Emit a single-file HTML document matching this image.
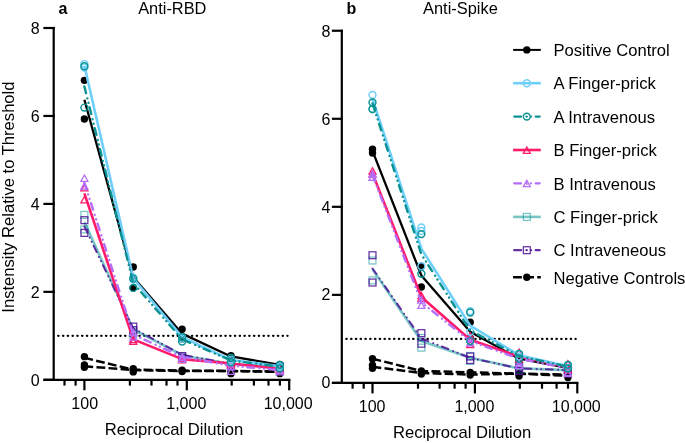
<!DOCTYPE html>
<html><head><meta charset="utf-8"><style>
html,body{margin:0;padding:0;background:#fff;}
body{width:685px;height:443px;overflow:hidden;font-family:"Liberation Sans", sans-serif;}
svg{display:block;will-change:transform;}
</style></head><body>
<svg width="685" height="443" viewBox="0 0 685 443" font-family='"Liberation Sans", sans-serif' fill="#000">
<rect width="685" height="443" fill="#fff"/>
<text x="58.6" y="14" font-size="16" font-weight="bold">a</text>
<text x="172.3" y="13.6" font-size="16.4" text-anchor="middle">Anti-RBD</text>
<text x="346.6" y="14.1" font-size="16" font-weight="bold">b</text>
<text x="460.4" y="14.1" font-size="16.4" text-anchor="middle">Anti-Spike</text>
<text transform="translate(14.2,197.1) rotate(-90)" text-anchor="middle" font-size="16.6">Instensity Relative to Threshold</text>
<line x1="53.7" y1="26.90" x2="53.7" y2="380.90" stroke="#000" stroke-width="2.2"/>
<line x1="43.4" y1="379.80" x2="54.80" y2="379.80" stroke="#000" stroke-width="2.2"/>
<text x="39.70" y="385.50" text-anchor="end" font-size="16">0</text>
<line x1="43.4" y1="291.85" x2="54.80" y2="291.85" stroke="#000" stroke-width="2.2"/>
<text x="39.70" y="297.55" text-anchor="end" font-size="16">2</text>
<line x1="43.4" y1="203.90" x2="54.80" y2="203.90" stroke="#000" stroke-width="2.2"/>
<text x="39.70" y="209.60" text-anchor="end" font-size="16">4</text>
<line x1="43.4" y1="115.95" x2="54.80" y2="115.95" stroke="#000" stroke-width="2.2"/>
<text x="39.70" y="121.65" text-anchor="end" font-size="16">6</text>
<line x1="43.4" y1="28.00" x2="54.80" y2="28.00" stroke="#000" stroke-width="2.2"/>
<text x="39.70" y="33.70" text-anchor="end" font-size="16">8</text>
<line x1="43.4" y1="379.80" x2="290.40" y2="379.80" stroke="#000" stroke-width="2.2"/>
<line x1="84.40" y1="379.80" x2="84.40" y2="390.30" stroke="#000" stroke-width="2.2"/>
<line x1="186.80" y1="379.80" x2="186.80" y2="390.30" stroke="#000" stroke-width="2.2"/>
<line x1="289.20" y1="379.80" x2="289.20" y2="390.30" stroke="#000" stroke-width="2.2"/>
<line x1="64.50" y1="379.80" x2="64.50" y2="385.60" stroke="#000" stroke-width="2.2"/>
<line x1="75.60" y1="379.80" x2="75.60" y2="385.60" stroke="#000" stroke-width="2.2"/>
<line x1="129.90" y1="379.80" x2="129.90" y2="385.60" stroke="#000" stroke-width="2.2"/>
<line x1="151.50" y1="379.80" x2="151.50" y2="385.60" stroke="#000" stroke-width="2.2"/>
<line x1="166.50" y1="379.80" x2="166.50" y2="385.60" stroke="#000" stroke-width="2.2"/>
<line x1="177.50" y1="379.80" x2="177.50" y2="385.60" stroke="#000" stroke-width="2.2"/>
<line x1="231.70" y1="379.80" x2="231.70" y2="385.60" stroke="#000" stroke-width="2.2"/>
<line x1="253.90" y1="379.80" x2="253.90" y2="385.60" stroke="#000" stroke-width="2.2"/>
<line x1="268.50" y1="379.80" x2="268.50" y2="385.60" stroke="#000" stroke-width="2.2"/>
<line x1="279.90" y1="379.80" x2="279.90" y2="385.60" stroke="#000" stroke-width="2.2"/>
<text x="84.70" y="408.80" text-anchor="middle" font-size="16">100</text>
<text x="186.30" y="408.80" text-anchor="middle" font-size="16">1,000</text>
<text x="288.20" y="408.80" text-anchor="middle" font-size="16">10,000</text>
<text x="174.00" y="434.80" text-anchor="middle" font-size="16.6">Reciprocal Dilution</text>
<line x1="58.20" y1="335.82" x2="287.60" y2="335.82" stroke="#000" stroke-width="2.2" stroke-dasharray="0.4 4.375" stroke-linecap="round"/>
<polyline points="84.40,357.81 133.26,369.69 182.11,370.57 230.97,371.00 279.83,371.44" fill="none" stroke="#000000" stroke-width="2.5" stroke-dasharray="8.8 3.3" stroke-linecap="butt" stroke-linejoin="round"/>
<circle cx="84.40" cy="356.63" r="3.7" fill="#000000"/>
<circle cx="133.26" cy="368.81" r="3.7" fill="#000000"/>
<circle cx="182.11" cy="370.13" r="3.7" fill="#000000"/>
<circle cx="230.97" cy="370.57" r="3.7" fill="#000000"/>
<circle cx="279.83" cy="371.44" r="3.7" fill="#000000"/>
<polyline points="84.40,366.17 133.26,370.13 182.11,371.00 230.97,371.00 279.83,371.88" fill="none" stroke="#000000" stroke-width="2.5" stroke-dasharray="8.8 3.3" stroke-linecap="butt" stroke-linejoin="round"/>
<circle cx="84.40" cy="364.85" r="3.7" fill="#000000"/>
<circle cx="84.40" cy="367.27" r="3.7" fill="#000000"/>
<circle cx="133.26" cy="371.88" r="3.7" fill="#000000"/>
<circle cx="182.11" cy="371.44" r="3.7" fill="#000000"/>
<circle cx="230.97" cy="373.64" r="3.7" fill="#000000"/>
<circle cx="279.83" cy="373.64" r="3.7" fill="#000000"/>
<polyline points="84.40,99.68 133.26,277.34 182.11,333.63 230.97,356.49 279.83,364.85" fill="none" stroke="#000000" stroke-width="2.3" stroke-linecap="butt" stroke-linejoin="round"/>
<circle cx="84.40" cy="80.33" r="3.7" fill="#000000"/>
<circle cx="84.40" cy="119.03" r="3.7" fill="#000000"/>
<circle cx="133.26" cy="267.00" r="3.7" fill="#000000"/>
<circle cx="133.26" cy="287.89" r="3.7" fill="#000000"/>
<circle cx="182.11" cy="329.23" r="3.7" fill="#000000"/>
<circle cx="182.11" cy="338.90" r="3.7" fill="#000000"/>
<circle cx="230.97" cy="355.61" r="3.7" fill="#000000"/>
<circle cx="230.97" cy="357.81" r="3.7" fill="#000000"/>
<circle cx="279.83" cy="364.41" r="3.7" fill="#000000"/>
<circle cx="279.83" cy="366.17" r="3.7" fill="#000000"/>
<polyline points="84.40,222.15 133.26,329.23 182.11,355.17 230.97,363.97 279.83,367.49" fill="none" stroke="rgba(8,150,150,0.55)" stroke-width="2.6" stroke-linecap="butt" stroke-linejoin="round"/>
<rect x="80.95" y="211.44" width="6.9" height="6.9" fill="none" stroke="rgba(8,150,150,0.55)" stroke-width="1.25"/>
<rect x="80.95" y="225.96" width="6.9" height="6.9" fill="none" stroke="rgba(8,150,150,0.55)" stroke-width="1.25"/>
<rect x="129.81" y="327.98" width="6.9" height="6.9" fill="none" stroke="rgba(8,150,150,0.55)" stroke-width="1.25"/>
<rect x="129.81" y="331.06" width="6.9" height="6.9" fill="none" stroke="rgba(8,150,150,0.55)" stroke-width="1.25"/>
<rect x="178.66" y="353.04" width="6.9" height="6.9" fill="none" stroke="rgba(8,150,150,0.55)" stroke-width="1.25"/>
<rect x="178.66" y="354.80" width="6.9" height="6.9" fill="none" stroke="rgba(8,150,150,0.55)" stroke-width="1.25"/>
<rect x="227.52" y="360.96" width="6.9" height="6.9" fill="none" stroke="rgba(8,150,150,0.55)" stroke-width="1.25"/>
<rect x="227.52" y="362.28" width="6.9" height="6.9" fill="none" stroke="rgba(8,150,150,0.55)" stroke-width="1.25"/>
<rect x="276.38" y="363.16" width="6.9" height="6.9" fill="none" stroke="rgba(8,150,150,0.55)" stroke-width="1.25"/>
<rect x="276.38" y="365.36" width="6.9" height="6.9" fill="none" stroke="rgba(8,150,150,0.55)" stroke-width="1.25"/>
<polyline points="84.40,226.55 133.26,328.35 182.11,354.73 230.97,363.97 279.83,367.49" fill="none" stroke="rgba(80,20,150,0.88)" stroke-width="2.0" stroke-dasharray="6.8 5.45 0.01 4.55 0.01 4.65" stroke-linecap="round" stroke-linejoin="round"/>
<rect x="80.95" y="216.72" width="6.9" height="6.9" fill="none" stroke="rgba(80,20,150,0.88)" stroke-width="1.25"/>
<rect x="80.95" y="229.47" width="6.9" height="6.9" fill="none" stroke="rgba(80,20,150,0.88)" stroke-width="1.25"/>
<rect x="129.81" y="323.14" width="6.9" height="6.9" fill="none" stroke="rgba(80,20,150,0.88)" stroke-width="1.25"/>
<rect x="129.81" y="326.66" width="6.9" height="6.9" fill="none" stroke="rgba(80,20,150,0.88)" stroke-width="1.25"/>
<rect x="178.66" y="352.60" width="6.9" height="6.9" fill="none" stroke="rgba(80,20,150,0.88)" stroke-width="1.25"/>
<rect x="178.66" y="354.36" width="6.9" height="6.9" fill="none" stroke="rgba(80,20,150,0.88)" stroke-width="1.25"/>
<rect x="227.52" y="360.08" width="6.9" height="6.9" fill="none" stroke="rgba(80,20,150,0.88)" stroke-width="1.25"/>
<rect x="227.52" y="362.28" width="6.9" height="6.9" fill="none" stroke="rgba(80,20,150,0.88)" stroke-width="1.25"/>
<rect x="276.38" y="363.16" width="6.9" height="6.9" fill="none" stroke="rgba(80,20,150,0.88)" stroke-width="1.25"/>
<rect x="276.38" y="365.36" width="6.9" height="6.9" fill="none" stroke="rgba(80,20,150,0.88)" stroke-width="1.25"/>
<polyline points="84.40,193.35 133.26,339.34 182.11,359.13 230.97,363.53 279.83,368.81" fill="none" stroke="#FF1A6A" stroke-width="2.6" stroke-linecap="butt" stroke-linejoin="round"/>
<path d="M84.40 184.67 L87.90 190.97 L80.90 190.97Z" fill="none" stroke="#FF1A6A" stroke-width="1.3" stroke-linejoin="miter"/>
<path d="M84.40 196.54 L87.90 202.84 L80.90 202.84Z" fill="none" stroke="#FF1A6A" stroke-width="1.3" stroke-linejoin="miter"/>
<path d="M133.26 336.38 L136.76 342.68 L129.76 342.68Z" fill="none" stroke="#FF1A6A" stroke-width="1.3" stroke-linejoin="miter"/>
<path d="M133.26 338.14 L136.76 344.44 L129.76 344.44Z" fill="none" stroke="#FF1A6A" stroke-width="1.3" stroke-linejoin="miter"/>
<path d="M182.11 355.29 L185.61 361.59 L178.61 361.59Z" fill="none" stroke="#FF1A6A" stroke-width="1.3" stroke-linejoin="miter"/>
<path d="M182.11 356.61 L185.61 362.91 L178.61 362.91Z" fill="none" stroke="#FF1A6A" stroke-width="1.3" stroke-linejoin="miter"/>
<path d="M230.97 360.13 L234.47 366.43 L227.47 366.43Z" fill="none" stroke="#FF1A6A" stroke-width="1.3" stroke-linejoin="miter"/>
<path d="M230.97 361.45 L234.47 367.75 L227.47 367.75Z" fill="none" stroke="#FF1A6A" stroke-width="1.3" stroke-linejoin="miter"/>
<path d="M279.83 365.85 L283.33 372.15 L276.33 372.15Z" fill="none" stroke="#FF1A6A" stroke-width="1.3" stroke-linejoin="miter"/>
<path d="M279.83 367.16 L283.33 373.46 L276.33 373.46Z" fill="none" stroke="#FF1A6A" stroke-width="1.3" stroke-linejoin="miter"/>
<polyline points="84.40,182.79 133.26,334.51 182.11,356.93 230.97,365.73 279.83,370.13" fill="none" stroke="#B46EFA" stroke-width="2.4" stroke-dasharray="6.8 5.45 0.01 4.55 0.01 4.65" stroke-linecap="round" stroke-linejoin="round"/>
<path d="M84.40 174.99 L87.90 181.29 L80.90 181.29Z" fill="none" stroke="#B46EFA" stroke-width="1.3" stroke-linejoin="miter"/>
<path d="M84.40 182.91 L87.90 189.21 L80.90 189.21Z" fill="none" stroke="#B46EFA" stroke-width="1.3" stroke-linejoin="miter"/>
<path d="M133.26 329.35 L136.76 335.65 L129.76 335.65Z" fill="none" stroke="#B46EFA" stroke-width="1.3" stroke-linejoin="miter"/>
<path d="M133.26 333.74 L136.76 340.04 L129.76 340.04Z" fill="none" stroke="#B46EFA" stroke-width="1.3" stroke-linejoin="miter"/>
<path d="M182.11 353.97 L185.61 360.27 L178.61 360.27Z" fill="none" stroke="#B46EFA" stroke-width="1.3" stroke-linejoin="miter"/>
<path d="M182.11 356.17 L185.61 362.47 L178.61 362.47Z" fill="none" stroke="#B46EFA" stroke-width="1.3" stroke-linejoin="miter"/>
<path d="M230.97 363.65 L234.47 369.95 L227.47 369.95Z" fill="none" stroke="#B46EFA" stroke-width="1.3" stroke-linejoin="miter"/>
<path d="M230.97 368.04 L234.47 374.34 L227.47 374.34Z" fill="none" stroke="#B46EFA" stroke-width="1.3" stroke-linejoin="miter"/>
<path d="M279.83 367.16 L283.33 373.46 L276.33 373.46Z" fill="none" stroke="#B46EFA" stroke-width="1.3" stroke-linejoin="miter"/>
<path d="M279.83 368.48 L283.33 374.78 L276.33 374.78Z" fill="none" stroke="#B46EFA" stroke-width="1.3" stroke-linejoin="miter"/>
<polyline points="84.40,65.82 133.26,278.22 182.11,337.14 230.97,360.01 279.83,366.17" fill="none" stroke="#6ED0FA" stroke-width="2.6" stroke-linecap="butt" stroke-linejoin="round"/>
<circle cx="84.40" cy="64.06" r="3.45" fill="none" stroke="#6ED0FA" stroke-width="1.45"/>
<circle cx="84.40" cy="67.58" r="3.45" fill="none" stroke="#6ED0FA" stroke-width="1.45"/>
<circle cx="133.26" cy="277.78" r="3.45" fill="none" stroke="#6ED0FA" stroke-width="1.45"/>
<circle cx="133.26" cy="279.54" r="3.45" fill="none" stroke="#6ED0FA" stroke-width="1.45"/>
<circle cx="182.11" cy="337.14" r="3.45" fill="none" stroke="#6ED0FA" stroke-width="1.45"/>
<circle cx="182.11" cy="338.46" r="3.45" fill="none" stroke="#6ED0FA" stroke-width="1.45"/>
<circle cx="230.97" cy="359.57" r="3.45" fill="none" stroke="#6ED0FA" stroke-width="1.45"/>
<circle cx="230.97" cy="361.33" r="3.45" fill="none" stroke="#6ED0FA" stroke-width="1.45"/>
<circle cx="279.83" cy="366.17" r="3.45" fill="none" stroke="#6ED0FA" stroke-width="1.45"/>
<circle cx="279.83" cy="367.49" r="3.45" fill="none" stroke="#6ED0FA" stroke-width="1.45"/>
<polyline points="84.40,86.49 133.26,283.06 182.11,339.34 230.97,360.45 279.83,366.61" fill="none" stroke="#0A9292" stroke-width="2.4" stroke-dasharray="6.8 5.45 0.01 4.55 0.01 4.65" stroke-linecap="round" stroke-linejoin="round"/>
<circle cx="84.40" cy="66.26" r="3.45" fill="none" stroke="#0A9292" stroke-width="1.45"/>
<circle cx="84.40" cy="107.59" r="3.45" fill="none" stroke="#0A9292" stroke-width="1.45"/>
<circle cx="133.26" cy="278.66" r="3.45" fill="none" stroke="#0A9292" stroke-width="1.45"/>
<circle cx="133.26" cy="287.89" r="3.45" fill="none" stroke="#0A9292" stroke-width="1.45"/>
<circle cx="182.11" cy="337.14" r="3.45" fill="none" stroke="#0A9292" stroke-width="1.45"/>
<circle cx="182.11" cy="341.54" r="3.45" fill="none" stroke="#0A9292" stroke-width="1.45"/>
<circle cx="230.97" cy="357.81" r="3.45" fill="none" stroke="#0A9292" stroke-width="1.45"/>
<circle cx="230.97" cy="362.21" r="3.45" fill="none" stroke="#0A9292" stroke-width="1.45"/>
<circle cx="279.83" cy="364.85" r="3.45" fill="none" stroke="#0A9292" stroke-width="1.45"/>
<circle cx="279.83" cy="368.37" r="3.45" fill="none" stroke="#0A9292" stroke-width="1.45"/>
<line x1="341.8" y1="29.64" x2="341.8" y2="384.00" stroke="#000" stroke-width="2.2"/>
<line x1="331.9" y1="382.90" x2="342.90" y2="382.90" stroke="#000" stroke-width="2.2"/>
<text x="330.40" y="388.00" text-anchor="end" font-size="16">0</text>
<line x1="331.9" y1="294.86" x2="342.90" y2="294.86" stroke="#000" stroke-width="2.2"/>
<text x="330.40" y="300.33" text-anchor="end" font-size="16">2</text>
<line x1="331.9" y1="206.82" x2="342.90" y2="206.82" stroke="#000" stroke-width="2.2"/>
<text x="330.40" y="212.67" text-anchor="end" font-size="16">4</text>
<line x1="331.9" y1="118.78" x2="342.90" y2="118.78" stroke="#000" stroke-width="2.2"/>
<text x="330.40" y="125.00" text-anchor="end" font-size="16">6</text>
<line x1="331.9" y1="30.74" x2="342.90" y2="30.74" stroke="#000" stroke-width="2.2"/>
<text x="330.40" y="37.34" text-anchor="end" font-size="16">8</text>
<line x1="331.9" y1="382.90" x2="578.40" y2="382.90" stroke="#000" stroke-width="2.2"/>
<line x1="372.50" y1="382.90" x2="372.50" y2="393.40" stroke="#000" stroke-width="2.2"/>
<line x1="474.90" y1="382.90" x2="474.90" y2="393.40" stroke="#000" stroke-width="2.2"/>
<line x1="577.30" y1="382.90" x2="577.30" y2="393.40" stroke="#000" stroke-width="2.2"/>
<line x1="352.60" y1="382.90" x2="352.60" y2="388.70" stroke="#000" stroke-width="2.2"/>
<line x1="363.70" y1="382.90" x2="363.70" y2="388.70" stroke="#000" stroke-width="2.2"/>
<line x1="418.00" y1="382.90" x2="418.00" y2="388.70" stroke="#000" stroke-width="2.2"/>
<line x1="439.60" y1="382.90" x2="439.60" y2="388.70" stroke="#000" stroke-width="2.2"/>
<line x1="454.60" y1="382.90" x2="454.60" y2="388.70" stroke="#000" stroke-width="2.2"/>
<line x1="465.60" y1="382.90" x2="465.60" y2="388.70" stroke="#000" stroke-width="2.2"/>
<line x1="519.80" y1="382.90" x2="519.80" y2="388.70" stroke="#000" stroke-width="2.2"/>
<line x1="542.00" y1="382.90" x2="542.00" y2="388.70" stroke="#000" stroke-width="2.2"/>
<line x1="556.60" y1="382.90" x2="556.60" y2="388.70" stroke="#000" stroke-width="2.2"/>
<line x1="568.00" y1="382.90" x2="568.00" y2="388.70" stroke="#000" stroke-width="2.2"/>
<text x="372.10" y="411.90" text-anchor="middle" font-size="16">100</text>
<text x="474.40" y="411.90" text-anchor="middle" font-size="16">1,000</text>
<text x="576.30" y="411.90" text-anchor="middle" font-size="16">10,000</text>
<text x="462.10" y="437.90" text-anchor="middle" font-size="16.6">Reciprocal Dilution</text>
<line x1="346.30" y1="338.88" x2="575.70" y2="338.88" stroke="#000" stroke-width="2.2" stroke-dasharray="0.4 4.375" stroke-linecap="round"/>
<polyline points="372.50,358.69 421.36,371.01 470.21,372.34 519.07,373.66 567.93,374.54" fill="none" stroke="#000000" stroke-width="2.5" stroke-dasharray="8.8 3.3" stroke-linecap="butt" stroke-linejoin="round"/>
<circle cx="372.50" cy="358.69" r="3.7" fill="#000000"/>
<circle cx="421.36" cy="371.01" r="3.7" fill="#000000"/>
<circle cx="470.21" cy="372.34" r="3.7" fill="#000000"/>
<circle cx="519.07" cy="373.66" r="3.7" fill="#000000"/>
<circle cx="567.93" cy="374.54" r="3.7" fill="#000000"/>
<polyline points="372.50,366.83 421.36,373.00 470.21,374.54 519.07,373.66 567.93,375.86" fill="none" stroke="#000000" stroke-width="2.5" stroke-dasharray="8.8 3.3" stroke-linecap="butt" stroke-linejoin="round"/>
<circle cx="372.50" cy="365.29" r="3.7" fill="#000000"/>
<circle cx="372.50" cy="368.37" r="3.7" fill="#000000"/>
<circle cx="421.36" cy="374.10" r="3.7" fill="#000000"/>
<circle cx="470.21" cy="374.98" r="3.7" fill="#000000"/>
<circle cx="519.07" cy="376.08" r="3.7" fill="#000000"/>
<circle cx="567.93" cy="377.62" r="3.7" fill="#000000"/>
<polyline points="372.50,150.91 421.36,275.49 470.21,331.84 519.07,358.69 567.93,367.93" fill="none" stroke="#000000" stroke-width="2.3" stroke-linecap="butt" stroke-linejoin="round"/>
<circle cx="372.50" cy="149.15" r="3.7" fill="#000000"/>
<circle cx="372.50" cy="153.12" r="3.7" fill="#000000"/>
<circle cx="421.36" cy="266.25" r="3.7" fill="#000000"/>
<circle cx="421.36" cy="286.94" r="3.7" fill="#000000"/>
<circle cx="470.21" cy="322.15" r="3.7" fill="#000000"/>
<circle cx="470.21" cy="338.00" r="3.7" fill="#000000"/>
<circle cx="519.07" cy="357.81" r="3.7" fill="#000000"/>
<circle cx="519.07" cy="360.89" r="3.7" fill="#000000"/>
<circle cx="567.93" cy="367.93" r="3.7" fill="#000000"/>
<circle cx="567.93" cy="369.69" r="3.7" fill="#000000"/>
<polyline points="372.50,269.33 421.36,341.08 470.21,357.81 519.07,368.37 567.93,370.13" fill="none" stroke="rgba(8,150,150,0.55)" stroke-width="2.6" stroke-linecap="butt" stroke-linejoin="round"/>
<rect x="369.05" y="257.07" width="6.9" height="6.9" fill="none" stroke="rgba(8,150,150,0.55)" stroke-width="1.25"/>
<rect x="369.05" y="276.88" width="6.9" height="6.9" fill="none" stroke="rgba(8,150,150,0.55)" stroke-width="1.25"/>
<rect x="417.91" y="334.55" width="6.9" height="6.9" fill="none" stroke="rgba(8,150,150,0.55)" stroke-width="1.25"/>
<rect x="417.91" y="344.23" width="6.9" height="6.9" fill="none" stroke="rgba(8,150,150,0.55)" stroke-width="1.25"/>
<rect x="466.76" y="352.60" width="6.9" height="6.9" fill="none" stroke="rgba(8,150,150,0.55)" stroke-width="1.25"/>
<rect x="466.76" y="357.44" width="6.9" height="6.9" fill="none" stroke="rgba(8,150,150,0.55)" stroke-width="1.25"/>
<rect x="515.62" y="362.72" width="6.9" height="6.9" fill="none" stroke="rgba(8,150,150,0.55)" stroke-width="1.25"/>
<rect x="515.62" y="366.24" width="6.9" height="6.9" fill="none" stroke="rgba(8,150,150,0.55)" stroke-width="1.25"/>
<rect x="564.48" y="366.24" width="6.9" height="6.9" fill="none" stroke="rgba(8,150,150,0.55)" stroke-width="1.25"/>
<rect x="564.48" y="368.44" width="6.9" height="6.9" fill="none" stroke="rgba(8,150,150,0.55)" stroke-width="1.25"/>
<polyline points="372.50,268.45 421.36,338.44 470.21,357.81 519.07,368.37 567.93,370.13" fill="none" stroke="rgba(80,20,150,0.88)" stroke-width="2.0" stroke-dasharray="6.8 5.45 0.01 4.55 0.01 4.65" stroke-linecap="round" stroke-linejoin="round"/>
<rect x="369.05" y="251.79" width="6.9" height="6.9" fill="none" stroke="rgba(80,20,150,0.88)" stroke-width="1.25"/>
<rect x="369.05" y="279.08" width="6.9" height="6.9" fill="none" stroke="rgba(80,20,150,0.88)" stroke-width="1.25"/>
<rect x="417.91" y="329.71" width="6.9" height="6.9" fill="none" stroke="rgba(80,20,150,0.88)" stroke-width="1.25"/>
<rect x="417.91" y="340.27" width="6.9" height="6.9" fill="none" stroke="rgba(80,20,150,0.88)" stroke-width="1.25"/>
<rect x="466.76" y="353.04" width="6.9" height="6.9" fill="none" stroke="rgba(80,20,150,0.88)" stroke-width="1.25"/>
<rect x="466.76" y="356.56" width="6.9" height="6.9" fill="none" stroke="rgba(80,20,150,0.88)" stroke-width="1.25"/>
<rect x="515.62" y="364.04" width="6.9" height="6.9" fill="none" stroke="rgba(80,20,150,0.88)" stroke-width="1.25"/>
<rect x="515.62" y="367.56" width="6.9" height="6.9" fill="none" stroke="rgba(80,20,150,0.88)" stroke-width="1.25"/>
<rect x="564.48" y="366.24" width="6.9" height="6.9" fill="none" stroke="rgba(80,20,150,0.88)" stroke-width="1.25"/>
<rect x="564.48" y="368.44" width="6.9" height="6.9" fill="none" stroke="rgba(80,20,150,0.88)" stroke-width="1.25"/>
<polyline points="372.50,173.36 421.36,297.06 470.21,339.76 519.07,356.49 567.93,367.05" fill="none" stroke="#FF1A6A" stroke-width="2.6" stroke-linecap="butt" stroke-linejoin="round"/>
<path d="M372.50 167.76 L376.00 174.06 L369.00 174.06Z" fill="none" stroke="#FF1A6A" stroke-width="1.3" stroke-linejoin="miter"/>
<path d="M372.50 170.84 L376.00 177.14 L369.00 177.14Z" fill="none" stroke="#FF1A6A" stroke-width="1.3" stroke-linejoin="miter"/>
<path d="M421.36 292.34 L424.86 298.64 L417.86 298.64Z" fill="none" stroke="#FF1A6A" stroke-width="1.3" stroke-linejoin="miter"/>
<path d="M421.36 294.98 L424.86 301.28 L417.86 301.28Z" fill="none" stroke="#FF1A6A" stroke-width="1.3" stroke-linejoin="miter"/>
<path d="M470.21 332.84 L473.71 339.14 L466.71 339.14Z" fill="none" stroke="#FF1A6A" stroke-width="1.3" stroke-linejoin="miter"/>
<path d="M470.21 341.20 L473.71 347.50 L466.71 347.50Z" fill="none" stroke="#FF1A6A" stroke-width="1.3" stroke-linejoin="miter"/>
<path d="M519.07 349.12 L522.57 355.42 L515.57 355.42Z" fill="none" stroke="#FF1A6A" stroke-width="1.3" stroke-linejoin="miter"/>
<path d="M519.07 355.73 L522.57 362.03 L515.57 362.03Z" fill="none" stroke="#FF1A6A" stroke-width="1.3" stroke-linejoin="miter"/>
<path d="M567.93 360.57 L571.43 366.87 L564.43 366.87Z" fill="none" stroke="#FF1A6A" stroke-width="1.3" stroke-linejoin="miter"/>
<path d="M567.93 366.73 L571.43 373.03 L564.43 373.03Z" fill="none" stroke="#FF1A6A" stroke-width="1.3" stroke-linejoin="miter"/>
<polyline points="372.50,175.13 421.36,302.34 470.21,341.08 519.07,358.69 567.93,368.37" fill="none" stroke="#B46EFA" stroke-width="2.4" stroke-dasharray="6.8 5.45 0.01 4.55 0.01 4.65" stroke-linecap="round" stroke-linejoin="round"/>
<path d="M372.50 170.84 L376.00 177.14 L369.00 177.14Z" fill="none" stroke="#B46EFA" stroke-width="1.3" stroke-linejoin="miter"/>
<path d="M372.50 173.93 L376.00 180.23 L369.00 180.23Z" fill="none" stroke="#B46EFA" stroke-width="1.3" stroke-linejoin="miter"/>
<path d="M421.36 296.74 L424.86 303.04 L417.86 303.04Z" fill="none" stroke="#B46EFA" stroke-width="1.3" stroke-linejoin="miter"/>
<path d="M421.36 302.02 L424.86 308.32 L417.86 308.32Z" fill="none" stroke="#B46EFA" stroke-width="1.3" stroke-linejoin="miter"/>
<path d="M470.21 335.92 L473.71 342.22 L466.71 342.22Z" fill="none" stroke="#B46EFA" stroke-width="1.3" stroke-linejoin="miter"/>
<path d="M470.21 339.44 L473.71 345.74 L466.71 345.74Z" fill="none" stroke="#B46EFA" stroke-width="1.3" stroke-linejoin="miter"/>
<path d="M519.07 360.13 L522.57 366.43 L515.57 366.43Z" fill="none" stroke="#B46EFA" stroke-width="1.3" stroke-linejoin="miter"/>
<path d="M519.07 362.33 L522.57 368.63 L515.57 368.63Z" fill="none" stroke="#B46EFA" stroke-width="1.3" stroke-linejoin="miter"/>
<path d="M567.93 369.37 L571.43 375.67 L564.43 375.67Z" fill="none" stroke="#B46EFA" stroke-width="1.3" stroke-linejoin="miter"/>
<path d="M567.93 370.25 L571.43 376.55 L564.43 376.55Z" fill="none" stroke="#B46EFA" stroke-width="1.3" stroke-linejoin="miter"/>
<polyline points="372.50,98.97 421.36,248.64 470.21,325.67 519.07,355.17 567.93,366.17" fill="none" stroke="#6ED0FA" stroke-width="2.6" stroke-linecap="butt" stroke-linejoin="round"/>
<circle cx="372.50" cy="95.01" r="3.45" fill="none" stroke="#6ED0FA" stroke-width="1.45"/>
<circle cx="372.50" cy="109.10" r="3.45" fill="none" stroke="#6ED0FA" stroke-width="1.45"/>
<circle cx="421.36" cy="227.51" r="3.45" fill="none" stroke="#6ED0FA" stroke-width="1.45"/>
<circle cx="421.36" cy="231.03" r="3.45" fill="none" stroke="#6ED0FA" stroke-width="1.45"/>
<circle cx="421.36" cy="266.25" r="3.45" fill="none" stroke="#6ED0FA" stroke-width="1.45"/>
<circle cx="470.21" cy="311.15" r="3.45" fill="none" stroke="#6ED0FA" stroke-width="1.45"/>
<circle cx="470.21" cy="331.84" r="3.45" fill="none" stroke="#6ED0FA" stroke-width="1.45"/>
<circle cx="519.07" cy="353.85" r="3.45" fill="none" stroke="#6ED0FA" stroke-width="1.45"/>
<circle cx="519.07" cy="356.49" r="3.45" fill="none" stroke="#6ED0FA" stroke-width="1.45"/>
<circle cx="567.93" cy="365.29" r="3.45" fill="none" stroke="#6ED0FA" stroke-width="1.45"/>
<circle cx="567.93" cy="367.93" r="3.45" fill="none" stroke="#6ED0FA" stroke-width="1.45"/>
<polyline points="372.50,103.37 421.36,254.36 470.21,330.52 519.07,356.05 567.93,366.61" fill="none" stroke="#0A9292" stroke-width="2.4" stroke-dasharray="6.8 5.45 0.01 4.55 0.01 4.65" stroke-linecap="round" stroke-linejoin="round"/>
<circle cx="372.50" cy="102.49" r="3.45" fill="none" stroke="#0A9292" stroke-width="1.45"/>
<circle cx="372.50" cy="109.10" r="3.45" fill="none" stroke="#0A9292" stroke-width="1.45"/>
<circle cx="421.36" cy="234.11" r="3.45" fill="none" stroke="#0A9292" stroke-width="1.45"/>
<circle cx="421.36" cy="273.73" r="3.45" fill="none" stroke="#0A9292" stroke-width="1.45"/>
<circle cx="470.21" cy="312.47" r="3.45" fill="none" stroke="#0A9292" stroke-width="1.45"/>
<circle cx="470.21" cy="341.08" r="3.45" fill="none" stroke="#0A9292" stroke-width="1.45"/>
<circle cx="519.07" cy="353.85" r="3.45" fill="none" stroke="#0A9292" stroke-width="1.45"/>
<circle cx="519.07" cy="358.69" r="3.45" fill="none" stroke="#0A9292" stroke-width="1.45"/>
<circle cx="567.93" cy="364.85" r="3.45" fill="none" stroke="#0A9292" stroke-width="1.45"/>
<circle cx="567.93" cy="368.37" r="3.45" fill="none" stroke="#0A9292" stroke-width="1.45"/>
<line x1="513.10" y1="49.9" x2="540.80" y2="49.9" stroke="#000000" stroke-width="2.0" stroke-linecap="butt"/>
<circle cx="526.80" cy="49.90" r="3.7" fill="#000000"/>
<text x="553.5" y="56.10" font-size="16.6">Positive Control</text>
<line x1="513.10" y1="83.2" x2="540.80" y2="83.2" stroke="#6ED0FA" stroke-width="2.6" stroke-linecap="butt"/>
<circle cx="526.80" cy="83.20" r="3.45" fill="none" stroke="#6ED0FA" stroke-width="1.45"/>
<text x="553.5" y="89.40" font-size="16.6">A Finger-prick</text>
<line x1="514.25" y1="116.6" x2="539.65" y2="116.6" stroke="#0A9292" stroke-width="2.3" stroke-dasharray="6.8 5.45 0.01 4.55 0.01 4.65" stroke-linecap="round"/>
<circle cx="526.80" cy="116.60" r="3.45" fill="none" stroke="#0A9292" stroke-width="1.45"/><circle cx="526.80" cy="116.60" r="0.9" fill="#0A9292"/>
<text x="553.5" y="122.80" font-size="16.6">A Intravenous</text>
<line x1="513.10" y1="150.0" x2="540.80" y2="150.0" stroke="#FF1A6A" stroke-width="2.6" stroke-linecap="butt"/>
<path d="M526.80 147.04 L530.30 153.34 L523.30 153.34Z" fill="none" stroke="#FF1A6A" stroke-width="1.3" stroke-linejoin="miter"/>
<text x="553.5" y="156.20" font-size="16.6">B Finger-prick</text>
<line x1="514.25" y1="183.3" x2="539.65" y2="183.3" stroke="#B46EFA" stroke-width="2.3" stroke-dasharray="6.8 5.45 0.01 4.55 0.01 4.65" stroke-linecap="round"/>
<path d="M526.80 180.34 L530.30 186.64 L523.30 186.64Z" fill="none" stroke="#B46EFA" stroke-width="1.3" stroke-linejoin="miter"/><circle cx="526.80" cy="184.10" r="0.9" fill="#B46EFA"/>
<text x="553.5" y="189.50" font-size="16.6">B Intravenous</text>
<line x1="513.10" y1="216.9" x2="540.80" y2="216.9" stroke="rgba(8,150,150,0.55)" stroke-width="2.6" stroke-linecap="butt"/>
<rect x="523.35" y="213.45" width="6.9" height="6.9" fill="none" stroke="rgba(8,150,150,0.55)" stroke-width="1.25"/>
<text x="553.5" y="223.10" font-size="16.6">C Finger-prick</text>
<line x1="514.25" y1="250.2" x2="539.65" y2="250.2" stroke="rgba(80,20,150,0.88)" stroke-width="2.3" stroke-dasharray="6.8 5.45 0.01 4.55 0.01 4.65" stroke-linecap="round"/>
<rect x="523.35" y="246.75" width="6.9" height="6.9" fill="none" stroke="rgba(80,20,150,0.88)" stroke-width="1.25"/><circle cx="526.80" cy="250.20" r="0.9" fill="rgba(80,20,150,0.88)"/>
<text x="553.5" y="256.40" font-size="16.6">C Intraveneous</text>
<line x1="513.10" y1="277.3" x2="540.80" y2="277.3" stroke="#000000" stroke-width="2.4" stroke-dasharray="8.8 3.3" stroke-linecap="butt"/>
<circle cx="526.80" cy="277.30" r="3.7" fill="#000000"/>
<text x="553.5" y="283.50" font-size="16.6">Negative Controls</text>
</svg>
</body></html>
